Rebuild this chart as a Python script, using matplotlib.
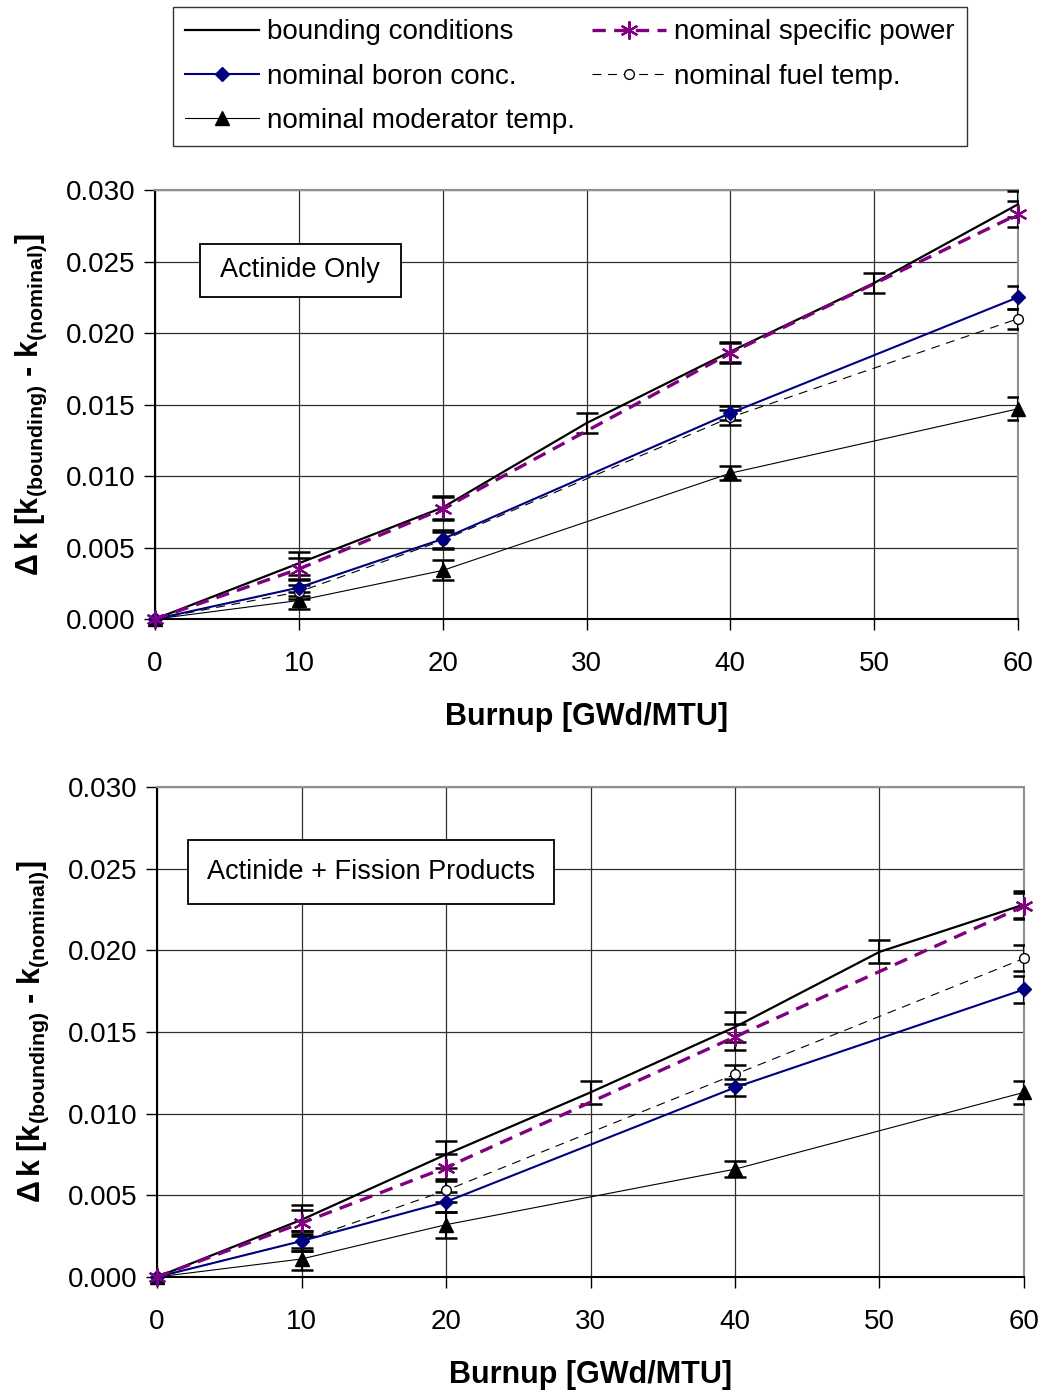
import matplotlib

matplotlib.use("Agg")
import matplotlib.pyplot as plt
from matplotlib.lines import Line2D

plt.rcParams["font.family"] = ["Liberation Sans", "DejaVu Sans"]
plt.rcParams["mathtext.fontset"] = "custom"
plt.rcParams["mathtext.rm"] = "Liberation Sans"
plt.rcParams["mathtext.bf"] = "Liberation Sans:bold"
plt.rcParams["mathtext.it"] = "Liberation Sans:italic"

# burnup points
x_all = [0, 10, 20, 30, 40, 50, 60]
x_sub = [0, 10, 20, 40, 60]

# --- Actinide only ---
top_bounding = [0.0, 0.0039, 0.0078, 0.0137, 0.0187, 0.0235, 0.0290]
top_bounding_err = [0.0, 0.0008, 0.0008, 0.0007, 0.0007, 0.0007, 0.0009]
top_power = [0.0, 0.0035, 0.0077, 0.0186, 0.0283]
top_power_err = [0.0, 0.0008, 0.0008, 0.0007, 0.0009]
top_boron = [0.0, 0.0022, 0.0056, 0.0144, 0.0225]
top_boron_err = [0.0, 0.0006, 0.0006, 0.0005, 0.0008]
top_fuel = [0.0, 0.0019, 0.0055, 0.0141, 0.0210]
top_fuel_err = [0.0, 0.0005, 0.0006, 0.0005, 0.0007]
top_mod = [0.0, 0.0013, 0.0034, 0.0102, 0.0147]
top_mod_err = [0.0, 0.0006, 0.0007, 0.0005, 0.0008]

# --- Actinide + fission products ---
bot_bounding = [0.0, 0.0035, 0.0075, 0.0113, 0.0153, 0.0199, 0.0228]
bot_bounding_err = [0.0, 0.0009, 0.0008, 0.0007, 0.0009, 0.0007, 0.0008]
bot_power = [0.0, 0.0033, 0.0067, 0.0147, 0.0227]
bot_power_err = [0.0, 0.0008, 0.0008, 0.0008, 0.0008]
bot_boron = [0.0, 0.0022, 0.0046, 0.0116, 0.0176]
bot_boron_err = [0.0, 0.0006, 0.0006, 0.0005, 0.0008]
bot_fuel = [0.0, 0.0022, 0.0053, 0.0124, 0.0195]
bot_fuel_err = [0.0, 0.0006, 0.0007, 0.0006, 0.0008]
bot_mod = [0.0, 0.0011, 0.0032, 0.0066, 0.0113]
bot_mod_err = [0.0, 0.0007, 0.0008, 0.0005, 0.0007]

y_ticks = [0.000, 0.005, 0.010, 0.015, 0.020, 0.025, 0.030]
x_ticks = [0, 10, 20, 30, 40, 50, 60]

PURPLE = "#800080"
NAVY = "#000080"

styles = {
    "bounding": dict(color="black", lw=1.6, ls="-", marker=None),
    "power": dict(color=PURPLE, lw=2.4, ls=(0, (4, 2.5)), marker=(6, 2, 0), ms=13, mew=1.6),
    "boron": dict(color=NAVY, lw=1.5, ls="-", marker="D", ms=7, mew=1),
    "fuel": dict(color="black", lw=0.8, ls=(0, (8, 6)), marker="o", ms=7, mfc="white", mew=1),
    "mod": dict(color="black", lw=0.8, ls="-", marker="^", ms=10, mew=1),
}

YLABEL = r"$\mathbf{\Delta\,k\ [k_{(bounding)}}$ - $\mathbf{k_{(nominal)}]}$"


def draw_panel(ax, series):
    for key, x, y, err in series:
        ax.errorbar(x, y, yerr=err, fmt="none", ecolor="black", elinewidth=1.5,
                    capsize=8, capthick=1.8, zorder=3)
    for key, x, y, err in series:
        ax.plot(x, y, zorder=4, clip_on=False, **styles[key])

    ax.set_xlim(0, 60)
    ax.set_ylim(0, 0.030)
    ax.set_xticks(x_ticks)
    ax.set_yticks(y_ticks)
    ax.set_yticklabels([f"{v:.3f}" for v in y_ticks])
    ax.tick_params(labelsize=20, direction="out", length=8, width=1, pad=6)
    ax.tick_params(axis="x", pad=15)
    ax.grid(True, color="#303030", lw=0.9)
    ax.set_axisbelow(True)
    for s in ("top", "right"):
        ax.spines[s].set_color("#909090")
        ax.spines[s].set_linewidth(1.5)
    for s in ("left", "bottom"):
        ax.spines[s].set_color("black")
        ax.spines[s].set_linewidth(1.5)
    ax.set_xlabel("Burnup [GWd/MTU]", fontsize=22, fontweight="bold", labelpad=18)
    ax.set_ylabel(YLABEL, fontsize=22, fontweight="bold", labelpad=12)


fig = plt.figure(figsize=(10.42, 13.93), dpi=100)

ax1 = fig.add_axes([0.1488, 0.5556, 0.8282, 0.3080])
draw_panel(ax1, [
    ("bounding", x_all, top_bounding, top_bounding_err),
    ("mod", x_sub, top_mod, top_mod_err),
    ("fuel", x_sub, top_fuel, top_fuel_err),
    ("boron", x_sub, top_boron, top_boron_err),
    ("power", x_sub, top_power, top_power_err),
])
ax1.text(10.1, 0.0244, " Actinide Only ", fontsize=19.5, ha="center", va="center", zorder=6,
         bbox=dict(boxstyle="square,pad=0.5", fc="white", ec="black", lw=1.3))

ax2 = fig.add_axes([0.1507, 0.0833, 0.8320, 0.3518])
draw_panel(ax2, [
    ("bounding", x_all, bot_bounding, bot_bounding_err),
    ("mod", x_sub, bot_mod, bot_mod_err),
    ("fuel", x_sub, bot_fuel, bot_fuel_err),
    ("boron", x_sub, bot_boron, bot_boron_err),
    ("power", x_sub, bot_power, bot_power_err),
])
ax2.text(14.8, 0.0248, "Actinide + Fission Products", fontsize=19.5, ha="center", va="center",
         zorder=6, bbox=dict(boxstyle="square,pad=0.7", fc="white", ec="black", lw=1.3))

handles = [
    Line2D([], [], **styles["bounding"]),
    Line2D([], [], **styles["boron"]),
    Line2D([], [], **styles["mod"]),
    Line2D([], [], **styles["power"]),
    Line2D([], [], **styles["fuel"]),
]
labels = ["bounding conditions", "nominal boron conc.", "nominal moderator temp.",
          "nominal specific power", "nominal fuel temp."]
leg = fig.legend(handles, labels, ncol=2, loc="upper left",
                 bbox_to_anchor=(0.166, 0.995), borderaxespad=0,
                 fontsize=20, frameon=True, fancybox=False, handlelength=2.65,
                 handletextpad=0.3, labelspacing=0.65, borderpad=0.45, columnspacing=0.6)
leg.get_frame().set_edgecolor("black")
leg.get_frame().set_linewidth(1.0)

fig.savefig("out.png", dpi=100)
